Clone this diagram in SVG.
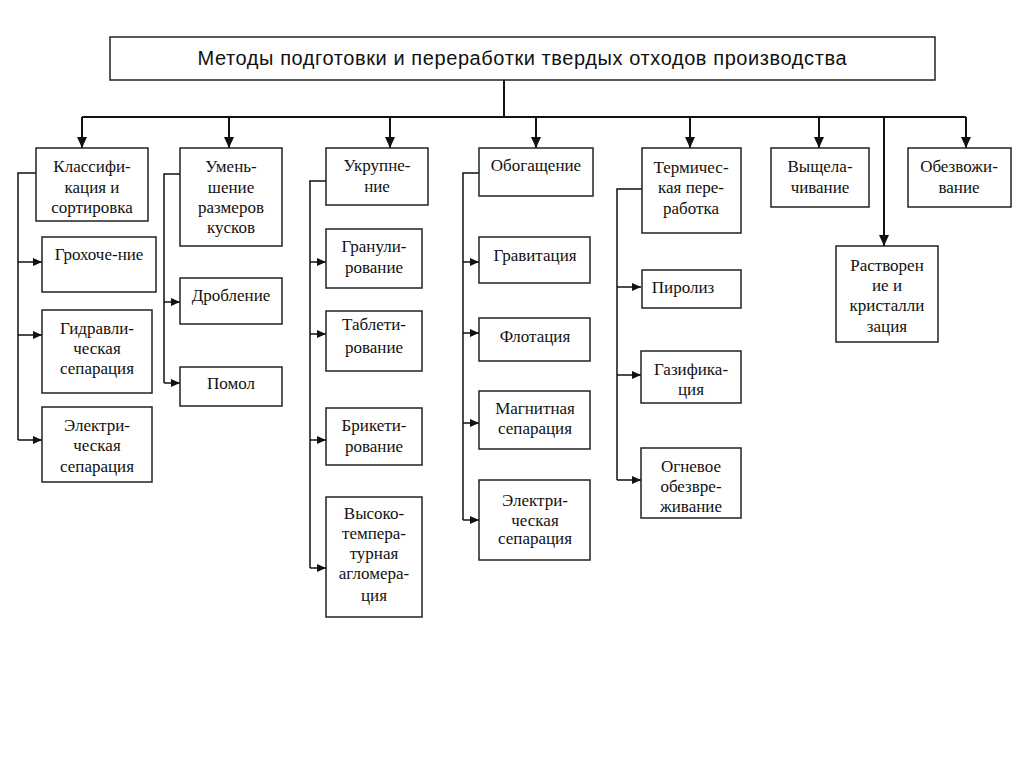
<svg xmlns="http://www.w3.org/2000/svg" width="1024" height="767" viewBox="0 0 1024 767">
<style>
.box{fill:#fff;stroke:#222;stroke-width:1.5}
.t{font-family:"Liberation Serif","Times New Roman",serif;font-size:17px;fill:#111;text-anchor:middle}
.title{font-family:"Liberation Sans",Arial,sans-serif;font-size:20px;fill:#111;text-anchor:middle}
.bus{fill:none;stroke:#111;stroke-width:2}
.br{fill:none;stroke:#111;stroke-width:1.5}
</style>
<defs>
<marker id="a" markerUnits="userSpaceOnUse" markerWidth="11" markerHeight="10" refX="11" refY="5" orient="auto"><path d="M0,0 L11,5 L0,10 z" fill="#111"/></marker>
<marker id="s" markerUnits="userSpaceOnUse" markerWidth="9" markerHeight="8" refX="9" refY="4" orient="auto"><path d="M0,0 L9,4 L0,8 z" fill="#111"/></marker>
</defs>
<rect width="1024" height="767" fill="#fff"/>
<g id="connectors">
<path class="bus" d="M504,80 V117 M82,117 H966"/>
<path class="bus" marker-end="url(#a)" d="M82,117 V148"/>
<path class="bus" marker-end="url(#a)" d="M229,117 V148"/>
<path class="bus" marker-end="url(#a)" d="M390,117 V148"/>
<path class="bus" marker-end="url(#a)" d="M536,117 V148"/>
<path class="bus" marker-end="url(#a)" d="M690,117 V148"/>
<path class="bus" marker-end="url(#a)" d="M819,117 V148"/>
<path class="bus" marker-end="url(#a)" d="M966,117 V148"/>
<path class="bus" marker-end="url(#a)" d="M884,117 V246"/>
<path class="br" d="M36,173 H18 V440"/>
<path class="br" marker-end="url(#s)" d="M18,262 H42"/>
<path class="br" marker-end="url(#s)" d="M18,335 H42"/>
<path class="br" marker-end="url(#s)" d="M18,440 H42"/>
<path class="br" d="M180,174 H164 V383"/>
<path class="br" marker-end="url(#s)" d="M164,302 H180"/>
<path class="br" marker-end="url(#s)" d="M164,383 H180"/>
<path class="br" d="M326,181 H310 V568"/>
<path class="br" marker-end="url(#s)" d="M310,262 H326"/>
<path class="br" marker-end="url(#s)" d="M310,334 H326"/>
<path class="br" marker-end="url(#s)" d="M310,440 H326"/>
<path class="br" marker-end="url(#s)" d="M310,568 H326"/>
<path class="br" d="M479,173 H463 V520"/>
<path class="br" marker-end="url(#s)" d="M463,262 H479"/>
<path class="br" marker-end="url(#s)" d="M463,333 H479"/>
<path class="br" marker-end="url(#s)" d="M463,423 H479"/>
<path class="br" marker-end="url(#s)" d="M463,520 H479"/>
<path class="br" d="M642,189 H617 V480"/>
<path class="br" marker-end="url(#s)" d="M617,287 H641"/>
<path class="br" marker-end="url(#s)" d="M617,375 H641"/>
<path class="br" marker-end="url(#s)" d="M617,480 H641"/>
</g>
<g id="title"><rect class="box" x="110" y="37" width="825" height="43"/><text class="title" x="522" y="65" textLength="649">Методы подготовки и переработки твердых отходов производства</text></g>
<g id="n-klass"><rect class="box" x="36" y="148" width="112" height="73"/><text class="t" x="92" y="172">Классифи-</text><text class="t" x="92" y="193">кация и</text><text class="t" x="92" y="213">сортировка</text></g>
<g id="n-groh"><rect class="box" x="42" y="237" width="114" height="55"/><text class="t" x="99" y="260">Грохоче-ние</text></g>
<g id="n-gidr"><rect class="box" x="42" y="310" width="110" height="83"/><text class="t" x="97" y="334">Гидравли-</text><text class="t" x="97" y="354">ческая</text><text class="t" x="97" y="374">сепарация</text></g>
<g id="n-el1"><rect class="box" x="42" y="407" width="110" height="75"/><text class="t" x="97" y="431">Электри-</text><text class="t" x="97" y="451">ческая</text><text class="t" x="97" y="472">сепарация</text></g>
<g id="n-umen"><rect class="box" x="180" y="148" width="102" height="98"/><text class="t" x="231" y="172">Умень-</text><text class="t" x="231" y="193">шение</text><text class="t" x="231" y="213">размеров</text><text class="t" x="231" y="233">кусков</text></g>
<g id="n-drob"><rect class="box" x="180" y="278" width="102" height="46"/><text class="t" x="231" y="301">Дробление</text></g>
<g id="n-pomol"><rect class="box" x="180" y="367" width="102" height="39"/><text class="t" x="231" y="389">Помол</text></g>
<g id="n-ukr"><rect class="box" x="326" y="148" width="102" height="57"/><text class="t" x="377" y="171">Укрупне-</text><text class="t" x="377" y="192">ние</text></g>
<g id="n-gran"><rect class="box" x="326" y="229" width="96" height="59"/><text class="t" x="374" y="252">Гранули-</text><text class="t" x="374" y="273">рование</text></g>
<g id="n-tabl"><rect class="box" x="326" y="311" width="96" height="60"/><text class="t" x="374" y="330">Таблети-</text><text class="t" x="374" y="353">рование</text></g>
<g id="n-brik"><rect class="box" x="326" y="408" width="96" height="57"/><text class="t" x="374" y="431">Брикети-</text><text class="t" x="374" y="452">рование</text></g>
<g id="n-vys"><rect class="box" x="326" y="497" width="96" height="120"/><text class="t" x="374" y="519">Высоко-</text><text class="t" x="374" y="539">темпера-</text><text class="t" x="374" y="559">турная</text><text class="t" x="374" y="579">агломера-</text><text class="t" x="374" y="601">ция</text></g>
<g id="n-obog"><rect class="box" x="479" y="148" width="114" height="48"/><text class="t" x="536" y="171">Обогащение</text></g>
<g id="n-grav"><rect class="box" x="479" y="237" width="111" height="46"/><text class="t" x="535" y="261">Гравитация</text></g>
<g id="n-flot"><rect class="box" x="479" y="318" width="111" height="43"/><text class="t" x="535" y="342">Флотация</text></g>
<g id="n-magn"><rect class="box" x="479" y="391" width="111" height="58"/><text class="t" x="535" y="414">Магнитная</text><text class="t" x="535" y="434">сепарация</text></g>
<g id="n-el2"><rect class="box" x="479" y="480" width="111" height="80"/><text class="t" x="535" y="506">Электри-</text><text class="t" x="535" y="526">ческая</text><text class="t" x="535" y="544">сепарация</text></g>
<g id="n-term"><rect class="box" x="642" y="148" width="99" height="85"/><text class="t" x="691" y="173">Термичес-</text><text class="t" x="691" y="193">кая пере-</text><text class="t" x="691" y="214">работка</text></g>
<g id="n-piro"><rect class="box" x="642" y="270" width="99" height="38"/><text class="t" x="683" y="293">Пиролиз</text></g>
<g id="n-gaz"><rect class="box" x="641" y="351" width="100" height="52"/><text class="t" x="691" y="375">Газифика-</text><text class="t" x="691" y="395">ция</text></g>
<g id="n-ogn"><rect class="box" x="641" y="448" width="100" height="70"/><text class="t" x="691" y="472">Огневое</text><text class="t" x="691" y="492">обезвре-</text><text class="t" x="691" y="512">живание</text></g>
<g id="n-vysh"><rect class="box" x="771" y="148" width="98" height="59"/><text class="t" x="820" y="172">Выщела-</text><text class="t" x="820" y="193">чивание</text></g>
<g id="n-obez"><rect class="box" x="908" y="148" width="103" height="59"/><text class="t" x="959" y="172">Обезвожи-</text><text class="t" x="959" y="193">вание</text></g>
<g id="n-rastv"><rect class="box" x="836" y="246" width="102" height="96"/><text class="t" x="887" y="271">Растворен</text><text class="t" x="887" y="291">ие и</text><text class="t" x="887" y="311">кристалли</text><text class="t" x="887" y="332">зация</text></g>
</svg>
